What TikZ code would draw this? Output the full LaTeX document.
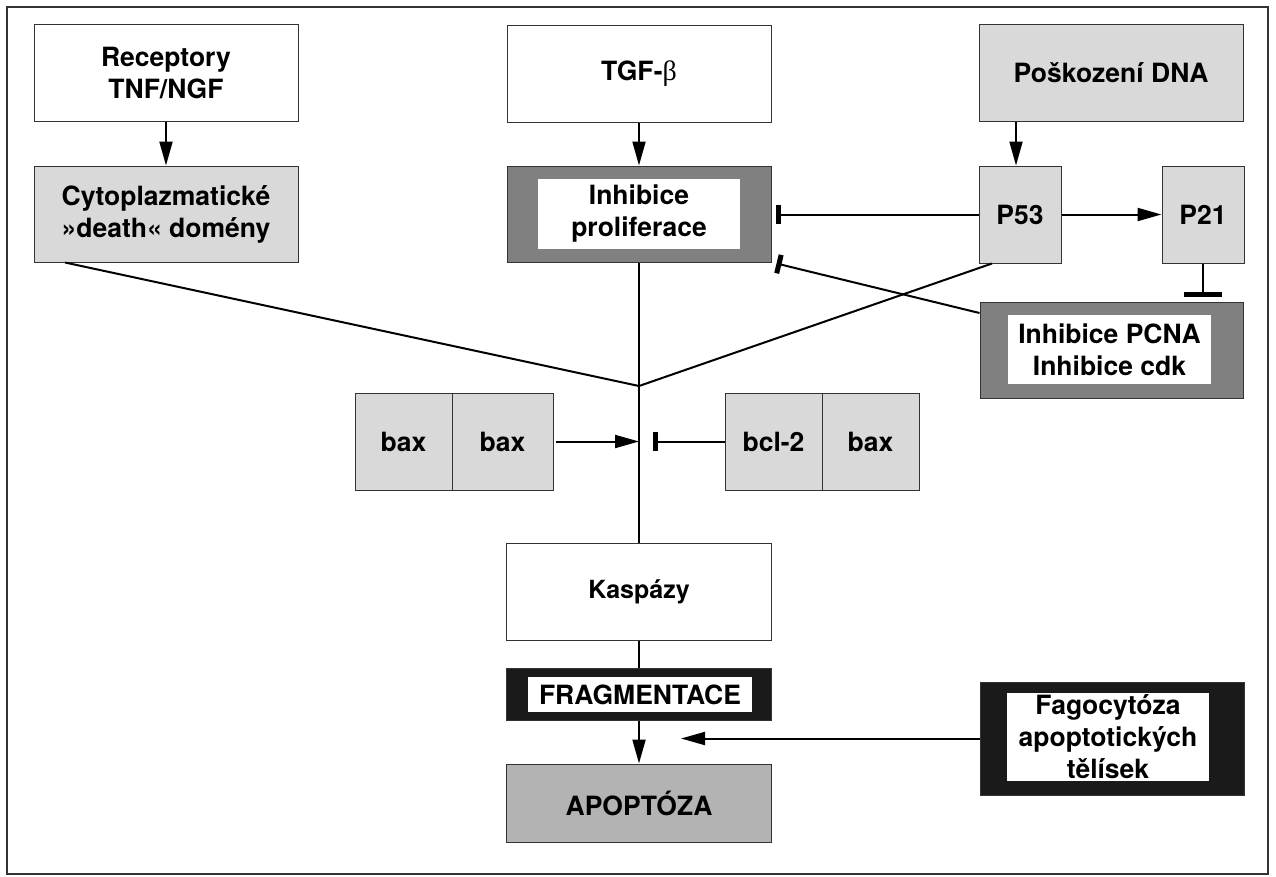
\documentclass[tikz,border=0pt]{standalone}
\usepackage{fontspec}
\setmainfont{TeX Gyre Heros}
\newfontfamily\symf{Liberation Serif}
\usetikzlibrary{arrows.meta}
\definecolor{lgray}{HTML}{D9D9D9}
\definecolor{dgray}{HTML}{808080}
\definecolor{mgray}{HTML}{B3B3B3}
\definecolor{nblack}{HTML}{1A1A1A}
\definecolor{edge}{HTML}{333333}
\begin{document}
\begin{tikzpicture}[x=1pt,y=-1pt,
  sz/.style 2 args={minimum width=#1,minimum height=#2},
  box/.style={draw=edge,line width=1pt,inner sep=0pt,align=center,
    font=\fontsize{26.5}{32}\selectfont\bfseries,text=black},
  inner/.style={fill=white,inner sep=0pt,align=center,
    font=\fontsize{26.5}{32}\selectfont\bfseries,text=black},
  conn/.style={line width=2pt,draw=black},
  arr/.style={conn,-{Triangle[length=24pt,width=13pt]}},
  inhib/.style={conn,-{Bar[width=19pt,line width=5pt]}},
  inhibw/.style={conn,-{Bar[width=38pt,line width=5pt]}}]
\useasboundingbox (0,0) rectangle (1276,876);
\draw[edge,line width=1.5pt] (7,7) rectangle (1268,874);
% top row
\node[box,sz={264pt}{97pt}] (rec) at (166,73) {Receptory\\TNF/NGF};
\node[box,sz={264pt}{97pt}] (tgf) at (639,74) {TGF-{\symf\mdseries\fontsize{28}{32}\selectfont β}};
\node[box,fill=lgray,sz={264pt}{97pt}] (dna) at (1111,73) {Poškození DNA};
% second row
\node[box,fill=lgray,sz={264pt}{96pt}] (cyto) at (166,214) {Cytoplazmatické\\»death« domény};
\node[box,fill=dgray,sz={264pt}{96pt}] (inh) at (639,214) {};
\node[inner,sz={202pt}{70pt}] (inht) at (639,214) {Inhibice\\proliferace};
\node[box,fill=lgray,sz={82pt}{97pt}] (p53) at (1020,214.5) {P53};
\node[box,fill=lgray,sz={82pt}{97pt}] (p21) at (1203,214.5) {P21};
\node[box,fill=dgray,sz={263pt}{96pt}] (pcna) at (1111.5,350) {};
\node[inner,sz={203pt}{69pt}] (pcnat) at (1109.5,349.5) {Inhibice PCNA\\Inhibice cdk};
% bax row
\node[box,fill=lgray,sz={97pt}{97pt}] (bax1) at (403.5,441.5) {bax};
\node[box,fill=lgray,sz={101pt}{97pt}] (bax2) at (502.5,441.5) {bax};
\node[box,fill=lgray,sz={97pt}{97pt}] (bcl) at (773.5,441.5) {bcl-2};
\node[box,fill=lgray,sz={97pt}{97pt}] (bax3) at (870.5,441.5) {bax};
% lower column
\node[box,sz={265pt}{97pt},font=\fontsize{25}{30}\selectfont\bfseries] (kas) at (639,591.5) {Kaspázy};
\node[box,fill=nblack,sz={265pt}{52pt}] (frag) at (639,694) {};
\node[inner,sz={224pt}{35pt}] (fragt) at (640,694.5) {FRAGMENTACE};
\node[box,fill=mgray,sz={265pt}{78pt}] (apo) at (639,803) {APOPTÓZA};
\node[box,fill=nblack,sz={264pt}{113pt}] (fag) at (1112,738.5) {};
\node[inner,sz={202pt}{88pt}] (fagt) at (1108,737) {Fagocytóza\\apoptotických\\tělísek};
% connectors
\coordinate (J) at (639,386);
\draw[arr] (rec) -- (cyto);
\draw[arr] (tgf) -- (inh);
\draw[arr] ([xshift=-4pt]p53.north |- dna.south) -- ([xshift=-4pt]p53.north);
\draw[arr] (p53) -- (p21);
\draw[inhib] (p53.west) -- ([xshift=4pt]inh.east |- p53.west);
\draw[inhibw] (p21.south) -- ([yshift=5pt]pcna.north -| p21);
\draw[inhib] ([yshift=37pt]pcna.west) -- ([xshift=5pt,yshift=-1pt]inh.south east);
\draw[conn] ([xshift=-101pt]cyto.south) -- (J);
\draw[conn] ([xshift=-28pt]p53.south) -- (J);
\draw[conn] (inh.south) -- (kas.north);
\draw[arr] ([xshift=2pt]bax2.east) -- (bax2.east -| J);
\draw[inhib] (bcl.west) -- ([xshift=14pt]bcl.west -| J);
\draw[conn] (kas.south) -- (frag.north);
\draw[arr] (frag.south) -- (apo.north);
\draw[arr] (fag.west) -- ([xshift=42pt]fag.west -| J);
\end{tikzpicture}
\end{document}
